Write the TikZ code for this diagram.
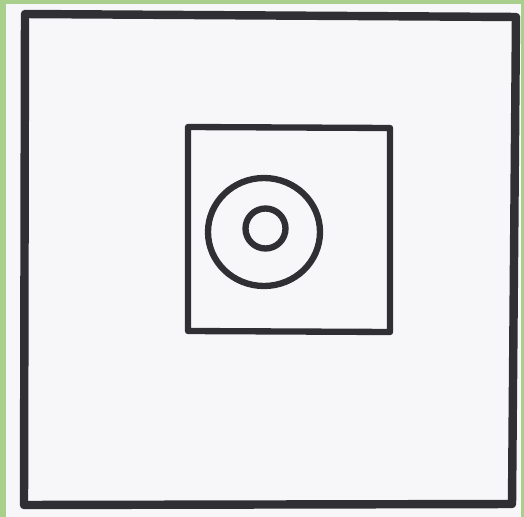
\documentclass[tikz,border=0pt]{standalone}
\usepackage{xcolor}
\usepackage{tikz}

\definecolor{mat}{RGB}{168,208,140}
\definecolor{paper}{RGB}{247,247,249}
\definecolor{ink}{RGB}{48,48,52}

\begin{document}
\begin{tikzpicture}[
  x=0.02cm,y=-0.02cm,
  thickink/.style={draw=ink,line width=4.8pt,line join=round,line cap=round},
  pen/.style={draw=ink,line width=3.6pt,line join=round,line cap=round}
]
\useasboundingbox (0,0) rectangle (524,517);
\fill[mat] (0,0) rectangle (524,517);
\fill[paper] (6,4) rectangle (521,517);

% outer frame
\draw[thickink] (25,14) -- (516,17) -- (512,504) -- (24,505) -- cycle;

% inner square
\draw[pen] (188,127) -- (390,128) -- (390,332) -- (188,331) -- cycle;

% rings
\draw[pen] (264,232) ellipse [x radius=56,y radius=54];
\draw[pen] (265.5,228.5) circle [radius=20];
\end{tikzpicture}
\end{document}
